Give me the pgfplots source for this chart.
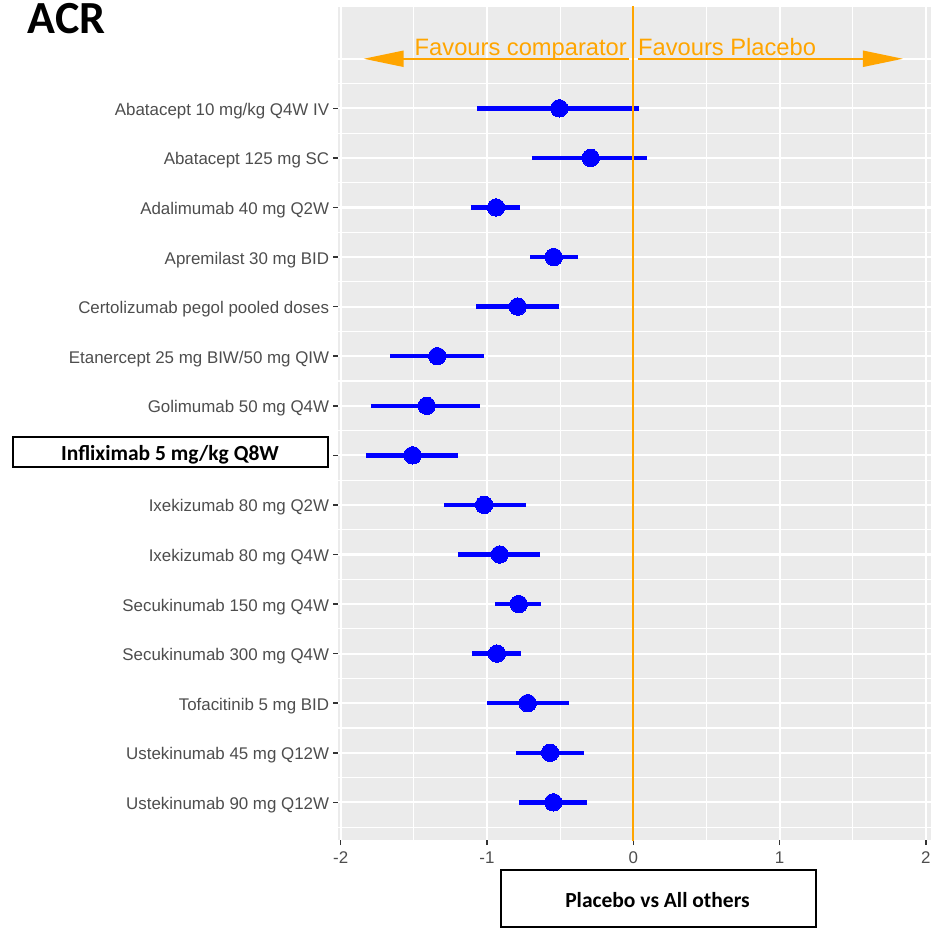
\documentclass[border=0pt]{standalone}
\usepackage{fontspec}
\setmainfont{Liberation Sans}
\newfontfamily\calfont{Carlito}
\usepackage{pgfplots}
\pgfplotsset{compat=1.18}
\usepackage{pgfplotstable}
\usetikzlibrary{arrows.meta}
\definecolor{ggbg}{HTML}{EBEBEB}
\definecolor{ggtxt}{HTML}{4D4D4D}
\definecolor{ggtick}{HTML}{333333}
\definecolor{ggorange}{HTML}{FFA500}
\definecolor{ggblue}{HTML}{0000FF}

\pgfplotstableread{
row est lo hi
1 -0.506 -1.066 0.041
2 -0.291 -0.695 0.096
3 -0.938 -1.107 -0.774
4 -0.544 -0.706 -0.378
5 -0.790 -1.075 -0.510
6 -1.340 -1.663 -1.020
7 -1.412 -1.795 -1.048
8 -1.508 -1.827 -1.198
9 -1.020 -1.294 -0.733
10 -0.913 -1.198 -0.636
11 -0.783 -0.943 -0.631
12 -0.932 -1.100 -0.770
13 -0.722 -1.002 -0.442
14 -0.569 -0.804 -0.339
15 -0.547 -0.781 -0.318
}\forestdata

\begin{document}
\begin{tikzpicture}
\useasboundingbox (0pt,0pt) rectangle (931pt,-928pt);
\begin{axis}[
  at={(338.3pt,-6.7pt)}, anchor=north west,
  scale only axis, width=592.7pt, height=833.3pt,
  xmin=-2.0164, xmax=2.0349, ymin=-1.05, ymax=15.76,
  y dir=reverse,
  axis background/.style={fill=ggbg},
  axis line style={draw=none},
  xtick={-2,-1,0,1,2}, xticklabels={-2,-1,0,1,2},
  minor xtick={-1.5,-0.5,0.5,1.5},
  ytick={1,...,15},
  yticklabels={Abatacept 10 mg/kg Q4W IV, Abatacept 125 mg SC, Adalimumab 40 mg Q2W, Apremilast 30 mg BID, Certolizumab pegol pooled doses, Etanercept 25 mg BIW/50 mg QIW, Golimumab 50 mg Q4W, {}, Ixekizumab 80 mg Q2W, Ixekizumab 80 mg Q4W, Secukinumab 150 mg Q4W, Secukinumab 300 mg Q4W, Tofacitinib 5 mg BID, Ustekinumab 45 mg Q12W, Ustekinumab 90 mg Q12W},
  minor ytick={0.5,1.5,...,15.5},
  extra y ticks={0}, extra y tick labels={},
  extra y tick style={major tick length=0pt, grid=major},
  xtick pos=bottom, ytick pos=left,
  tick align=outside,
  major tick length=5pt, minor tick length=0pt,
  tick style={ggtick, line width=1.5pt},
  grid=both,
  major grid style={white, line width=2.2pt},
  minor grid style={white, line width=1.1pt},
  ticklabel style={font=\fontsize{16.9pt}{18pt}\selectfont, text=ggtxt},
  yticklabel style={anchor=base east, inner sep=0pt, xshift=-4pt, yshift=-7pt},
  xticklabel style={anchor=north, inner sep=0pt, yshift=-6.5pt},
]
\addplot[ggblue, only marks, mark=*, mark size=8.7pt,
  mark options={fill=ggblue, draw=ggblue, line width=0pt},
  error bars/.cd, x dir=both, x explicit, error mark=none,
  error bar style={line width=4.5pt, ggblue}]
  table[x=est, y=row,
        x error plus expr=\thisrow{hi}-\thisrow{est},
        x error minus expr=\thisrow{est}-\thisrow{lo}] {\forestdata};
\addplot[ggorange, line width=2pt, mark=none] coordinates {(0,-1.2) (0,16)};
\addplot[ggorange, line width=2pt, mark=none, -{Triangle[length=40pt, width=16pt]}] coordinates {(-0.029,0) (-1.843,0)};
\addplot[ggorange, line width=2pt, mark=none, -{Triangle[length=40pt, width=16pt]}] coordinates {(0.032,0) (1.843,0)};
\node[anchor=base east, inner sep=0pt, text=ggorange, font=\fontsize{23.7pt}{26pt}\selectfont] at (axis cs:-0.043,-0.075) {Favours comparator};
\node[anchor=base west, inner sep=0pt, text=ggorange, font=\fontsize{23.7pt}{26pt}\selectfont] at (axis cs:0.032,-0.075) {Favours Placebo};
\end{axis}
\node[anchor=base west, inner sep=0pt, font=\calfont\bfseries\fontsize{46pt}{50pt}\selectfont] at (27.5pt,-33.5pt) {ACR};
\draw[line width=2pt, fill=white] (12.7pt,-437pt) rectangle (328pt,-466.7pt);
\node[anchor=base, inner sep=0pt, font=\calfont\bfseries\fontsize{21.5pt}{24pt}\selectfont] at (170pt,-460pt) {Infliximab 5 mg/kg Q8W};
\draw[line width=2pt, fill=white] (500.5pt,-870pt) rectangle (816pt,-927pt);
\node[anchor=base, inner sep=0pt, font=\calfont\bfseries\fontsize{21.5pt}{24pt}\selectfont] at (657.5pt,-907.3pt) {Placebo vs All others};
\end{tikzpicture}
\end{document}
